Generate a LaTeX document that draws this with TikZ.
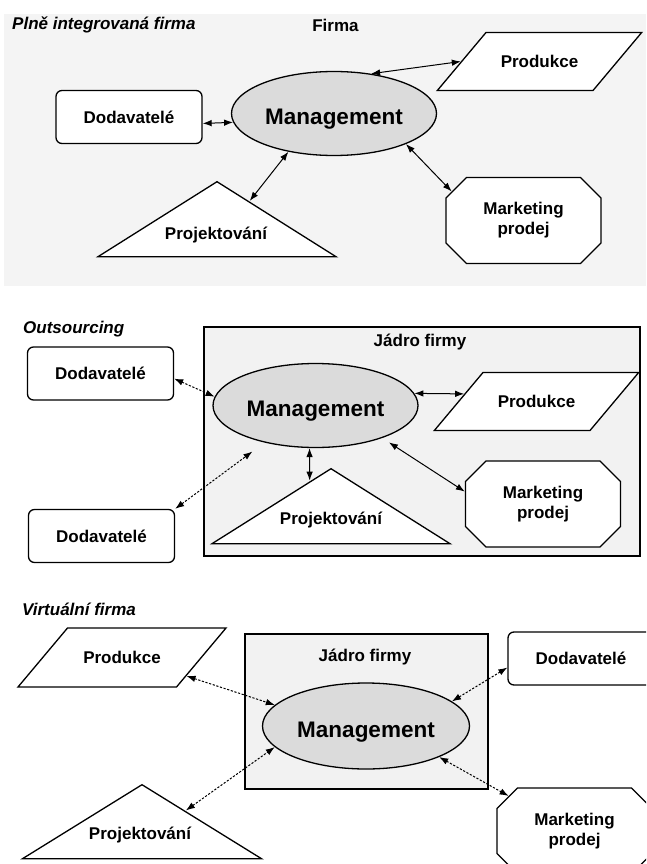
\documentclass[tikz,border=0pt]{standalone}
\usepackage{fontspec}
\setmainfont{Liberation Sans}
\usetikzlibrary{shapes.geometric,shapes.misc,arrows.meta,calc}

\begin{document}
\begin{tikzpicture}[x=1pt,y=-1pt,
  txt/.style={font=\fontsize{17}{20}\selectfont\bfseries, inner sep=0pt, align=center},
  ttl/.style={font=\fontsize{17}{20}\selectfont\bfseries\itshape, inner sep=0pt, anchor=west},
  outline/.style={draw=black, line width=1.3pt, fill=white},
  boxfirm/.style={outline, rounded corners=6pt, minimum width=146pt, minimum height=53pt, txt},
  mgmtell/.style={draw=black, line width=1.3pt, ellipse, fill=gray!28, minimum width=205pt, minimum height=84pt,
    inner sep=0pt, text height=22pt, text depth=0pt, font=\fontsize{22.5}{26}\selectfont\bfseries},
  prodshape/.style={outline, trapezium, trapezium left angle=50, trapezium right angle=130, txt,
    text width=78pt, text height=12pt, text depth=0pt, inner xsep=14.5pt, inner ysep=23pt},
  mktshape/.style={outline, chamfered rectangle, chamfered rectangle xsep=17pt, minimum width=155pt, minimum height=86pt, txt},
  projshape/.style={outline, isosceles triangle, shape border rotate=90, isosceles triangle stretches,
    minimum width=238pt, minimum height=75pt, inner sep=0pt, anchor=apex},
  core/.style={draw=black, line width=1.5pt, fill=gray!10, inner sep=0pt, anchor=north west},
  link/.style={line width=1pt, {Latex[length=9pt,width=6.5pt]}-{Latex[length=9pt,width=6.5pt]}},
  dlink/.style={link, dash pattern=on 2.2pt off 1.6pt},
]
\useasboundingbox (0,0) rectangle (646,864);
\clip (0,0) rectangle (646,864);

% ---- fully integrated firm ----
\fill[gray!9] (4,14) rectangle (646,286);
\node[ttl] (t1) at (12,25) {Plně integrovaná firma};
\node[txt] (firma) at (335.5,25) {Firma};
\node[boxfirm] (dod1) at (129,117) {Dodavatelé};
\node[mgmtell] (mg1) at (334,113.5) {Management};
\node[prodshape] (prod1) at (539.5,61.5) {Produkce};
\node[projshape] (proj1) at (217,180) {};
\node[txt] (proj1t) at (216,235) {Projektování};
\node[mktshape] (mkt1) at (523.5,220.5) {Marketing\\prodej};

\draw[link] (dod1.-5) -- (mg1.185);
\draw[link] (mg1.47) -- (prod1.180);
\draw[link] (mg1.220) -- ($(proj1.apex)!0.27!(proj1.right corner)$);
\draw[link] (mg1.-23) -- (mkt1.158);

% ---- outsourcing ----
\node[ttl] (t2) at (23,329) {Outsourcing};
\node[core, minimum width=436pt, minimum height=229pt] (core2) at (203,326) {};
\node[txt] (core2t) at (420,342) {Jádro firmy};
\node[boxfirm] (dod2a) at (100.5,373.5) {Dodavatelé};
\node[boxfirm] (dod2b) at (101.5,536) {Dodavatelé};
\node[mgmtell] (mg2) at (315.5,405.5) {Management};
\node[prodshape] (prod2) at (536.5,401.5) {Produkce};
\node[projshape] (proj2) at (331,467) {};
\node[txt] (proj2t) at (331,520) {Projektování};
\node[mktshape] (mkt2) at (543,504) {Marketing\\prodej};

\draw[dlink] (dod2a.-4) -- (mg2.175);
\draw[dlink, shorten >=15pt] (dod2b.north east) -- (mg2.216);
\draw[link] (mg2.7) -- (prod2.174);
\draw[link] (mg2.262) -- ($(proj2.apex)!0.176!(proj2.left corner)$);
\draw[link, shorten <=8pt] (mg2.-26) -- (mkt2.171);

% ---- virtual firm ----
\node[ttl] (t3) at (22,609) {Virtuální firma};
\node[prodshape, inner xsep=15.5pt, inner ysep=23.5pt] (prod3) at (122,657.5) {Produkce};
\node[core, minimum width=243pt, minimum height=155pt] (core3) at (244,633) {};
\node[txt] (core3t) at (365,657) {Jádro firmy};
\node[mgmtell, minimum width=207pt, minimum height=86pt] (mg3) at (366,726) {Management};
\node[boxfirm] (dod3) at (581,658.5) {Dodavatelé};
\node[projshape, minimum height=74pt, minimum width=239pt] (proj3) at (142,783) {};
\node[txt] (proj3t) at (140,835) {Projektování};
\node[mktshape] (mkt3) at (574.5,831) {Marketing\\prodej};

\draw[dlink] (prod3.-16) -- (mg3.167);
\draw[dlink] ($(proj3.apex)!0.36!(proj3.right corner)$) -- (mg3.193);
\draw[dlink] (dod3.187) -- (mg3.16);
\draw[dlink] (mg3.-23) -- (mkt3.152);
\end{tikzpicture}
\end{document}
